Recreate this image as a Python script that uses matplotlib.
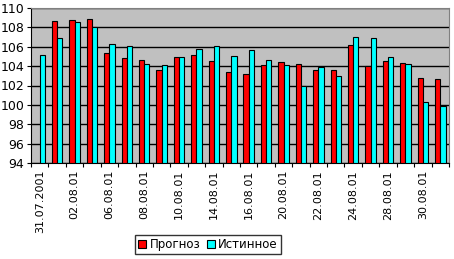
import numpy as np
import matplotlib.pyplot as plt

dates = ["31.07.2001", "01.08.01", "02.08.01", "03.08.01", "06.08.01", "07.08.01",
         "08.08.01", "09.08.01", "10.08.01", "13.08.01", "14.08.01", "15.08.01",
         "16.08.01", "17.08.01", "20.08.01", "21.08.01", "22.08.01", "23.08.01",
         "24.08.01", "27.08.01", "28.08.01", "29.08.01", "30.08.01", "31.08.01"]

prognoz = [np.nan, 108.7, 108.8, 108.9, 105.4, 104.8, 104.6, 103.6, 104.9, 105.1,
           104.5, 103.4, 103.2, 104.1, 104.4, 104.2, 103.6, 103.6, 106.2, 104.0,
           104.5, 104.3, 102.8, 102.7]

istinnoe = [105.1, 106.9, 108.6, 108.0, 106.3, 106.1, 104.2, 104.1, 104.9, 105.8,
            106.1, 105.0, 105.7, 104.6, 104.1, 101.9, 103.9, 103.0, 107.0, 106.9,
            104.9, 104.2, 100.3, 99.9]

fig = plt.figure(figsize=(4.54, 2.59), dpi=100)
ax = fig.add_axes([31 / 454, 1 - 163 / 259, 418 / 454, 155 / 259])
ax.set_facecolor("#c0c0c0")

x = np.arange(len(dates))
w = 0.3
base = 94
ax.bar(x - w / 2, np.array(prognoz) - base, w, bottom=base, color="#ff0000",
       edgecolor="black", linewidth=0.8, label="Прогноз", zorder=3)
ax.bar(x + w / 2, np.array(istinnoe) - base, w, bottom=base, color="#00ffff",
       edgecolor="black", linewidth=0.8, label="Истинное", zorder=3)

ax.set_xlim(-0.5, len(dates) - 0.5)
ax.set_ylim(94, 110)
ax.set_yticks(np.arange(94, 111, 2))
ax.yaxis.grid(True, color="black", linewidth=1, zorder=1)
ax.set_axisbelow(True)

# ticks between categories, labels on every other date
ax.set_xticks(np.arange(-0.5, len(dates), 1))
ax.set_xticklabels([])
ax.set_xticks(x[::2], minor=True)
ax.set_xticklabels(dates[::2], minor=True, rotation=90, fontsize=8)
ax.tick_params(axis="x", which="minor", length=0, pad=5)
ax.tick_params(axis="x", which="major", length=3, direction="out", color="black")
ax.tick_params(axis="y", length=3, direction="out", labelsize=9, pad=2)

for s in ["top", "right"]:
    ax.spines[s].set_color("#808080")
for s in ["left", "bottom"]:
    ax.spines[s].set_color("black")

leg = fig.legend(loc="center", bbox_to_anchor=(208 / 454, 1 - 244.7 / 259), ncol=2,
                 fontsize=8.5, frameon=True, fancybox=False, edgecolor="black",
                 handlelength=0.7, handleheight=0.7, handletextpad=0.3,
                 columnspacing=0.5, borderpad=0.25)
leg.get_frame().set_linewidth(1)

fig.savefig("out.png", dpi=100)
